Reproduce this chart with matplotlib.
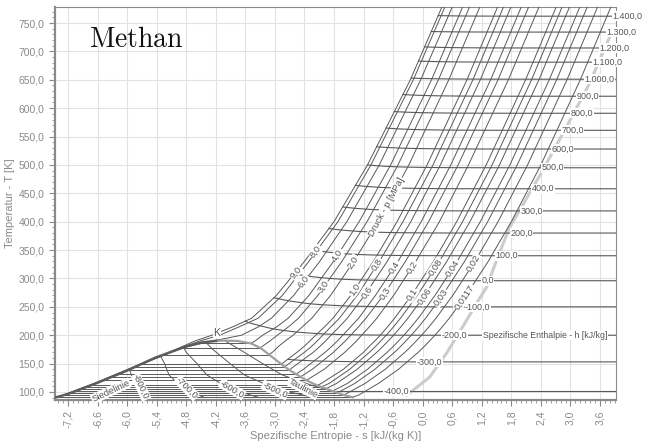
import numpy as np
import matplotlib.pyplot as plt
from matplotlib.ticker import MultipleLocator, FuncFormatter

plt.rcParams['font.family'] = ['Liberation Sans', 'DejaVu Sans']
plt.rcParams['mathtext.fontset'] = 'cm'

LINE = '#585858'
LABEL = '#555555'
AXIS = '#8a8a8a'

# ---- saturation dome, s in kJ/(kg K), T in K
bubble_s = [-7.44, -7.20, -6.61, -6.02, -5.44, -4.85, -4.50, -4.15]
bubble_T = [90.7, 96.5, 116.0, 137.0, 160.0, 179.0, 187.0, 190.6]
dew_s = [-1.42, -1.60, -1.73, -1.83, -1.96, -2.06, -2.14, -2.36, -2.48, -2.57,
         -2.71, -2.80, -2.87, -3.12, -3.29, -3.49, -3.77, -4.15]
dew_T = [90.7, 94.6, 98.6, 101.6, 105.9, 109.0, 111.5, 120.5, 126.8, 131.5,
         138.8, 144.5, 149.0, 166.0, 177.5, 185.7, 190.0, 190.6]

# ---- isobars (MPa)
p_labels = ['9,0', '8,0', '6,0', '4,0', '3,0', '2,0', '1,0', '0,8', '0,6', '0,4',
            '0,3', '0,2', '0,1', '0,08', '0,06', '0,04', '0,03', '0,02', '0,0117']
p_values = [9.0, 8.0, 6.0, 4.0, 3.0, 2.0, 1.0, 0.8, 0.6, 0.4,
            0.3, 0.2, 0.1, 0.08, 0.06, 0.04, 0.03, 0.02, 0.0117]
p_tsat = [None, None, None, 185.7, 177.5, 166.0, 149.0, 144.5, 138.8, 131.5,
          126.8, 120.5, 111.5, 109.0, 105.9, 101.6, 98.6, 94.6, 90.7]
p_label_T = [311, 347, 294, 341, 285, 329, 280, 324, 276, 320,
             274, 320, 271, 320, 269, 318, 266, 327, 267]

iso_T = [778, 650, 500, 400, 330, 270, 230, 215, 200, 190, 180, 170, 140, 115, 95]
n = np.nan
iso_s = [
    [0.39, -0.25, -1.12, -1.80, -2.40, -2.97, -3.47, -3.85, -4.28, -4.62, -4.88, -5.14, -5.98, -6.67, -7.28],
    [0.45, -0.19, -1.05, -1.72, -2.31, -2.85, -3.34, -3.72, -4.12, -4.52, -4.84, -5.12, -5.97, -6.66, -7.27],
    [0.60, -0.04, -0.88, -1.54, -2.09, -2.62, -3.07, -3.33, -3.68, -4.25, -4.78, -5.10, -5.96, -6.65, -7.27],
    [0.81, 0.18, -0.65, -1.29, -1.81, -2.31, -2.73, -2.96, -3.25, -3.40, n, n, n, n, n],
    [0.95, 0.32, -0.50, -1.13, -1.64, -2.13, -2.52, -2.72, -2.95, -3.10, -3.26, n, n, n, n],
    [1.16, 0.53, -0.28, -0.90, -1.40, -1.87, -2.25, -2.44, -2.63, -2.79, -2.93, -3.05, n, n, n],
    [1.52, 0.90, 0.09, -0.52, -1.00, -1.46, -1.82, -1.99, -2.17, -2.29, -2.41, -2.55, n, n, n],
    [1.64, 1.02, 0.21, -0.40, -0.88, -1.33, -1.69, -1.86, -2.03, -2.14, -2.26, -2.40, n, n, n],
    [1.79, 1.17, 0.36, -0.24, -0.72, -1.18, -1.53, -1.69, -1.86, -1.97, -2.09, -2.22, n, n, n],
    [2.00, 1.38, 0.57, -0.03, -0.50, -0.96, -1.30, -1.46, -1.62, -1.73, -1.85, -1.98, -2.42, n, n],
    [2.15, 1.53, 0.72, 0.12, -0.35, -0.80, -1.15, -1.30, -1.46, -1.57, -1.69, -1.81, -2.24, n, n],
    [2.36, 1.74, 0.93, 0.34, -0.14, -0.59, -0.93, -1.08, -1.24, -1.34, -1.46, -1.58, -2.00, n, n],
    [2.71, 2.09, 1.29, 0.69, 0.22, -0.23, -0.57, -0.71, -0.86, -0.97, -1.09, -1.20, -1.61, -2.06, n],
    [2.83, 2.21, 1.41, 0.81, 0.34, -0.11, -0.45, -0.59, -0.74, -0.85, -0.96, -1.08, -1.48, -1.90, n],
    [2.98, 2.36, 1.56, 0.96, 0.49, 0.04, -0.30, -0.44, -0.59, -0.70, -0.81, -0.93, -1.33, -1.75, n],
    [3.19, 2.57, 1.77, 1.17, 0.70, 0.25, -0.09, -0.23, -0.38, -0.49, -0.60, -0.72, -1.12, -1.53, n],
    [3.34, 2.72, 1.92, 1.32, 0.85, 0.40, 0.06, -0.08, -0.23, -0.34, -0.45, -0.57, -0.97, -1.38, n],
    [3.55, 2.93, 2.13, 1.53, 1.06, 0.61, 0.27, 0.13, -0.02, -0.13, -0.24, -0.36, -0.76, -1.17, n],
    [3.82, 3.20, 2.40, 1.80, 1.33, 0.88, 0.54, 0.40, 0.25, 0.14, 0.03, -0.09, -0.49, -0.90, -1.29],
]

# ---- isenthalps (kJ/kg): T at the low-pressure side, rise at 9 MPa
h_labels = ['1.400,0', '1.300,0', '1.200,0', '1.100,0', '1.000,0', '900,0', '800,0',
            '700,0', '600,0', '500,0', '400,0', '300,0', '200,0', '100,0', '0,0',
            '-100,0', '-200,0', '-300,0', '-400,0']
h_T = [762, 734, 706, 681, 651, 621, 591, 561, 528, 495, 458, 419, 380, 340, 296,
       250, 200, 153, 102]
h_rise = [1, 1, 2, 2, 2, 3, 3, 4, 4, 5, 6, 7, 8, 10, 12, 16, 25, 40, 0]
h_label_s = [4.16, 4.04, 3.90, 3.75, 3.59, 3.35, 3.23, 3.04, 2.84, 2.64, 2.44, 2.21,
             2.01, 1.70, 1.32, 1.12, 0.65, 0.14, -0.53]

# isenthalps inside the two-phase region
h800_s = [-5.95, -5.90, -5.82, -5.70, -5.54]
h800_T = [140, 125, 111.7, 100, 90.7]
h700_s = [-5.32, -5.24, -5.15, -4.93, -4.70, -4.44]
h700_T = [163, 150, 130, 111.7, 100, 90.7]
h600_s = [-4.85, -4.80, -4.58, -4.38, -4.04, -3.70, -3.34]
h600_T = [178, 170, 150, 130, 111.7, 100, 90.7]
h500_s = [-4.42, -4.26, -3.91, -3.62, -3.14, -2.70, -2.23]
h500_T = [189, 175, 150, 130, 111.7, 100, 90.7]
h400_s = [-4.00, -3.66, -3.25, -2.85, -2.25, -1.83]
h400_T = [189.5, 172, 150, 130, 111.7, 101.6]

# light grey boundary curve
edge_s = [-0.32, 0.14, 0.49, 0.81, 1.10, 1.30, 1.50, 1.77, 1.97, 2.44, 2.92, 3.39, 3.86]
edge_T = [94.7, 126, 169, 214.5, 257, 285, 332, 391, 420, 491, 567, 644, 738]

XMIN, XMAX = -7.464, 3.925
YMIN, YMAX = 85.9, 778.2

fig = plt.figure(figsize=(6.57, 4.48), dpi=100)
ax = fig.add_axes([55 / 657, 1 - 400 / 448, 561 / 657, 393 / 448])
ax.set_xlim(XMIN, XMAX)
ax.set_ylim(YMIN, YMAX)

ax.xaxis.set_major_locator(MultipleLocator(0.6))
ax.xaxis.set_minor_locator(MultipleLocator(0.1))
ax.yaxis.set_major_locator(MultipleLocator(50))
ax.yaxis.set_minor_locator(MultipleLocator(10))


def comma(v, _):
    txt = f'{v:.1f}'.replace('.', ',')
    return '0,0' if txt == '-0,0' else txt


ax.xaxis.set_major_formatter(FuncFormatter(comma))
ax.yaxis.set_major_formatter(FuncFormatter(comma))
ax.tick_params(which='both', colors=AXIS, labelsize=7.5, direction='out')
ax.tick_params(which='major', length=4)
ax.tick_params(which='minor', length=2)
plt.setp(ax.get_xticklabels(), rotation=90)
ax.grid(True, which='major', color='#e2e2e2', lw=0.8)
ax.set_axisbelow(True)
for side, sp in ax.spines.items():
    sp.set_color('#8a8a8a')
    sp.set_linewidth(1.6 if side in ('left', 'bottom') else 0.8)

ax.set_xlabel('Spezifische Entropie - s [kJ/(kg K)]', color=AXIS, fontsize=8)
ax.set_ylabel('Temperatur - T [K]', color=AXIS, fontsize=8)
ax.xaxis.set_label_coords(0.5, -0.078)
ax.yaxis.set_label_coords(-0.072, 0.5)

# light boundary curve
ax.plot(edge_s, edge_T, color='#cccccc', lw=2.2, zorder=2)

# isobars
grid_T = np.array(iso_T, dtype=float)
dew_Ta = np.array(dew_T)
dew_sa = np.array(dew_s)
isobars = []
for i, p in enumerate(p_values):
    row = np.array(iso_s[i], dtype=float)
    ok = ~np.isnan(row)
    T = list(grid_T[ok])
    s = list(row[ok])
    if p_tsat[i] is not None:
        ts = p_tsat[i]
        sd = np.interp(ts, dew_Ta, dew_sa)
        sb = np.interp(ts, bubble_T, bubble_s)
        T.append(ts)
        s.append(sd)
        ax.plot([sb, sd], [ts, ts], color=LINE, lw=0.7, zorder=3)
    order = np.argsort(T)
    T = np.array(T)[order]
    s = np.array(s)[order]
    isobars.append((T, s))
    ax.plot(s, T, color=LINE, lw=0.7, zorder=3)

# saturation dome
ax.plot(bubble_s, bubble_T, color='#5c5c5c', lw=1.8, zorder=4)
ax.plot(dew_s, dew_T, color='#a0a0a0', lw=1.6, zorder=4)

# isenthalps in the vapour region
for j, Th in enumerate(h_T):
    pts = []
    for i, p in enumerate(p_values):
        Ti = Th + h_rise[j] * p / 9.0
        T, s = isobars[i]
        lower = p_tsat[i] if p_tsat[i] is not None else 200.0
        if lower <= Ti <= T[-1]:
            pts.append((np.interp(Ti, T, s), Ti))
    pts.sort()
    pts.append((XMAX + 0.2, Th))
    xs, ys = zip(*pts)
    ax.plot(xs, ys, color=LINE, lw=0.8, zorder=3)

for hs, hT in ((h800_s, h800_T), (h700_s, h700_T), (h600_s, h600_T),
               (h500_s, h500_T), (h400_s, h400_T)):
    ax.plot(hs, hT, color=LINE, lw=0.7, zorder=3)

box = dict(facecolor='white', edgecolor='none', pad=0.4)


def angle_on(T, s, T0):
    s0 = np.interp(T0, T, s)
    s1 = np.interp(T0 + 8, T, s)
    (x0, y0), (x1, y1) = ax.transData.transform([(s0, T0), (s1, T0 + 8)])
    return np.degrees(np.arctan2(y1 - y0, x1 - x0))


for i, lab in enumerate(p_labels):
    T, s = isobars[i]
    t0 = p_label_T[i]
    ax.text(np.interp(t0, T, s), t0, lab, fontsize=6.8, color=LABEL,
            rotation=angle_on(T, s, t0), rotation_mode='anchor',
            ha='center', va='center', bbox=box, zorder=6)

T2, s2 = isobars[5]
ax.text(np.interp(426, T2, s2), 426, 'Druck - p [MPa]', fontsize=6.8, color=LABEL,
        rotation=angle_on(T2, s2, 426), rotation_mode='anchor',
        ha='center', va='center', bbox=box, zorder=6)

for j, lab in enumerate(h_labels):
    ax.text(h_label_s[j], h_T[j], lab, fontsize=6.5, color=LABEL,
            ha='center', va='center', bbox=box, zorder=6, clip_on=False)

ax.text(2.48, 200, 'Spezifische Enthalpie - h [kJ/kg]', fontsize=6.3, color=LABEL,
        ha='center', va='center', bbox=box, zorder=6)

dome_labels = [('Siedelinie', -6.33, 101.8, 25), ('-800,0', -5.72, 108.8, -65),
               ('-700,0', -4.79, 107.0, -45), ('-600,0', -3.87, 105.0, -30),
               ('-500,0', -3.00, 103.5, -25), ('Taulinie', -2.43, 107.0, -28)]
for lab, sx, ty, rot in dome_labels:
    ax.text(sx, ty, lab, fontsize=6.8, color=LABEL, rotation=rot,
            rotation_mode='anchor', ha='center', va='center', bbox=box, zorder=6)
ax.text(-4.18, 204, 'K', fontsize=7.5, color=LABEL, ha='center', va='center',
        bbox=dict(facecolor='white', edgecolor='none', pad=0.2), zorder=6)

fig.text(89 / 657, 1 - 47 / 448, r'$\mathrm{Methan}$', fontsize=20,
         color='#111111', va='baseline', ha='left')

fig.savefig('out.png', dpi=100)
